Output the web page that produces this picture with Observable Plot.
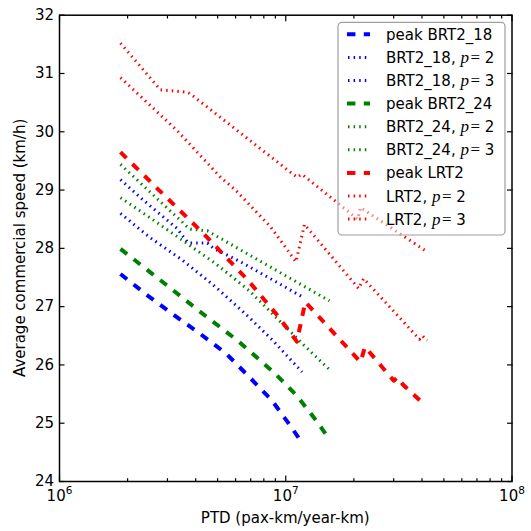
<!DOCTYPE html>
<html>
<head>
<meta charset="utf-8">
<script src="https://cdn.jsdelivr.net/npm/d3@7"></script>
<script src="https://cdn.jsdelivr.net/npm/@observablehq/plot@0.6"></script>
<style>
  html, body { margin: 0; padding: 0; background: #ffffff; }
  #chart svg { display: block; }
</style>
</head>
<body>
<div id="chart"></div>
<script>
// ---------------- data ----------------
const seriesBase   = ["peak BRT2_18", "BRT2_18", "BRT2_18", "peak BRT2_24", "BRT2_24", "BRT2_24", "peak LRT2", "LRT2", "LRT2"];
const seriesP      = [null, 2, 3, null, 2, 3, null, 2, 3];
const seriesColor  = ["#0000ff", "#0000ff", "#0000ff", "#008000", "#008000", "#008000", "#ff0000", "#ff0000", "#ff0000"];
const seriesStyle  = ["dashed", "dotted", "dotted", "dashed", "dotted", "dotted", "dashed", "dotted", "dotted"];

const ptd_peakBRT2_18   = [1.86e6, 2.47e6, 3.22e6, 4.20e6, 5.47e6, 6.91e6, 8.65e6, 1.06e7, 1.18e7];
const speed_peakBRT2_18 = [27.56, 27.18, 26.85, 26.53, 26.19, 25.79, 25.40, 24.93, 24.66];

const ptd_BRT2_18_p2    = [1.86e6, 2.36e6, 3.31e6, 3.67e6, 3.79e6, 4.51e6, 4.79e6, 6.31e6, 8.56e6, 1.18e7];
const speed_BRT2_18_p2  = [29.18, 28.82, 28.34, 28.11, 28.09, 28.09, 28.00, 27.77, 27.48, 27.17];

const ptd_BRT2_18_p3    = [1.86e6, 2.48e6, 3.49e6, 4.89e6, 6.87e6, 8.71e6, 1.18e7];
const speed_BRT2_18_p3  = [28.60, 28.20, 27.80, 27.34, 26.82, 26.43, 25.88];

const ptd_peakBRT2_24   = [1.86e6, 2.82e6, 4.16e6, 6.16e6, 8.92e6, 1.12e7, 1.38e7, 1.56e7];
const speed_peakBRT2_24 = [27.99, 27.44, 26.92, 26.41, 25.86, 25.47, 25.02, 24.72];

const ptd_BRT2_24_p2    = [1.86e6, 3.67e6, 3.79e6, 4.51e6, 4.79e6, 1.56e7];
const speed_BRT2_24_p2  = [29.44, 28.37, 28.33, 28.30, 28.24, 27.10];

const ptd_BRT2_24_p3    = [1.86e6, 2.48e6, 3.49e6, 4.89e6, 6.87e6, 9.65e6, 1.18e7, 1.56e7];
const speed_BRT2_24_p3  = [28.87, 28.54, 28.14, 27.74, 27.28, 26.71, 26.37, 25.92];

const ptd_peakLRT2      = [1.86e6, 2.75e6, 4.34e6, 6.82e6, 9.32e6, 1.12e7, 1.22e7, 2.14e7, 2.24e7, 3.00e7, 3.12e7, 3.30e7, 4.15e7];
const speed_peakLRT2    = [29.65, 29.00, 28.25, 27.45, 26.82, 26.40, 27.08, 26.05, 26.31, 25.73, 25.79, 25.66, 25.30];

const ptd_LRT2_p2       = [1.86e6, 2.79e6, 3.67e6, 3.79e6, 1.12e7, 1.18e7, 2.08e7, 2.14e7, 4.22e7];
const speed_LRT2_p2     = [31.52, 30.72, 30.68, 30.65, 29.22, 29.27, 28.50, 28.70, 27.94];

const ptd_LRT2_p3       = [1.86e6, 3.31e6, 5.15e6, 6.0e6, 8.56e6, 1.11e7, 1.21e7, 2.10e7, 2.21e7, 3.90e7, 4.02e7, 4.22e7];
const speed_LRT2_p3     = [30.93, 30.02, 29.22, 29.00, 28.37, 27.77, 28.41, 27.31, 27.48, 26.44, 26.50, 26.42];

const xMajorTicks = [1e6, 1e7, 1e8];
const xMinorTicks = [2e6, 3e6, 4e6, 5e6, 6e6, 7e6, 8e6, 9e6, 2e7, 3e7, 4e7, 5e7, 6e7, 7e7, 8e7, 9e7];
const yTicks = [24, 25, 26, 27, 28, 29, 30, 31, 32];
const xTitle = "PTD (pax-km/year-km)";
const yTitle = "Average commercial speed (km/h)";

// ---------------- build ----------------
const ptdList = [ptd_peakBRT2_18, ptd_BRT2_18_p2, ptd_BRT2_18_p3, ptd_peakBRT2_24, ptd_BRT2_24_p2, ptd_BRT2_24_p3, ptd_peakLRT2, ptd_LRT2_p2, ptd_LRT2_p3];
const speedList = [speed_peakBRT2_18, speed_BRT2_18_p2, speed_BRT2_18_p3, speed_peakBRT2_24, speed_BRT2_24_p2, speed_BRT2_24_p3, speed_peakLRT2, speed_LRT2_p2, speed_LRT2_p3];

const dashFor = {dashed: "8.4,8.4", dotted: "1.5,4.1"};
const widthFor = {dashed: 4, dotted: 3};

const series = seriesBase.map((base, i) => ({
  base, p: seriesP[i], color: seriesColor[i], style: seriesStyle[i],
  rows: ptdList[i].map((x, j) => ({ptd: x, speed: speedList[i][j]}))
}));

const lineMarks = series.map(s => Plot.line(s.rows, {
  x: "ptd", y: "speed",
  stroke: s.color,
  strokeWidth: widthFor[s.style],
  strokeDasharray: dashFor[s.style],
  strokeLinecap: "butt",
  strokeLinejoin: "round"
}));

const W = 531, H = 531;
const mL = 59, mR = 19.5, mT = 14.7, mB = 50;

const plot = Plot.plot({
  width: W, height: H,
  marginLeft: mL, marginRight: mR, marginTop: mT, marginBottom: mB,
  style: {fontFamily: "'DejaVu Sans', sans-serif", fontSize: "15px", background: "#ffffff", color: "#000000"},
  x: {type: "log", domain: [1e6, 1e8], label: null},
  y: {domain: [24, 32], label: null},
  marks: [
    ...lineMarks,
    Plot.frame({stroke: "#000000", strokeWidth: 1.5}),
    Plot.axisX({anchor: "bottom", ticks: xMajorTicks, tickSize: -5.5, strokeWidth: 1.2, tickFormat: () => "", label: null}),
    Plot.axisX({anchor: "bottom", ticks: xMinorTicks, tickSize: -2.8, strokeWidth: 1.2, tickFormat: () => "", label: null}),
    Plot.axisX({anchor: "top", ticks: xMajorTicks, tickSize: -5.5, strokeWidth: 1.2, tickFormat: () => "", label: null}),
    Plot.axisX({anchor: "top", ticks: xMinorTicks, tickSize: -2.8, strokeWidth: 1.2, tickFormat: () => "", label: null}),
    Plot.axisX({anchor: "bottom", ticks: xMajorTicks, tickSize: 0, tickPadding: 9, fontSize: 15,
      tickFormat: d => `10^${Math.round(Math.log10(d))}`, label: null}),
    Plot.axisY({anchor: "left", ticks: yTicks, tickSize: -5.5, strokeWidth: 1.2, tickFormat: () => "", label: null}),
    Plot.axisY({anchor: "right", ticks: yTicks, tickSize: -5.5, strokeWidth: 1.2, tickFormat: () => "", label: null}),
    Plot.axisY({anchor: "left", ticks: yTicks, tickSize: 0, tickPadding: 5.5, fontSize: 15,
      tickFormat: d => String(d), label: null})
  ]
});

document.getElementById("chart").appendChild(plot);

const svg = d3.select(plot);

// superscript exponents on the log tick labels
svg.selectAll('g[aria-label="x-axis tick label"] text').each(function () {
  const m = /^10\^(\d+)$/.exec(this.textContent);
  if (m) {
    this.textContent = "10";
    d3.select(this).append("tspan").attr("dy", -7.5).attr("font-size", 10.5).text(m[1]);
  }
});

const xr = plot.scale("x").range;
const yr = plot.scale("y").range;
const cx = (xr[0] + xr[1]) / 2;
const cy = (yr[0] + yr[1]) / 2;

svg.append("text")
  .attr("x", cx).attr("y", 523)
  .attr("text-anchor", "middle")
  .attr("font-size", 15)
  .attr("fill", "#000")
  .text(xTitle);

svg.append("text")
  .attr("transform", `translate(24.5,${cy}) rotate(-90)`)
  .attr("text-anchor", "middle")
  .attr("font-size", 15)
  .attr("fill", "#000")
  .text(yTitle);

// legend
const lg = svg.append("g").attr("aria-label", "legend");
lg.append("rect")
  .attr("x", 338).attr("y", 22.3).attr("width", 167).attr("height", 212.7)
  .attr("rx", 4).attr("ry", 4)
  .attr("fill", "#ffffff").attr("fill-opacity", 0.5)
  .attr("stroke", "#a0a0a0").attr("stroke-width", 1.2);

series.forEach((s, i) => {
  const rowY = 34.3 + i * 23.1;
  const dotted = s.style === "dotted";
  lg.append("line")
    .attr("x1", dotted ? 348 : 347).attr("x2", dotted ? 367 : 370)
    .attr("y1", rowY).attr("y2", rowY)
    .attr("stroke", s.color)
    .attr("stroke-width", widthFor[s.style])
    .attr("stroke-dasharray", dashFor[s.style])
    .attr("stroke-linecap", "butt");
  const t = lg.append("text")
    .attr("x", 386).attr("y", rowY + 5.5)
    .attr("text-anchor", "start")
    .attr("font-size", 15).attr("fill", "#000");
  if (s.p == null) {
    t.text(s.base);
  } else {
    t.append("tspan").text(s.base + ", ");
    t.append("tspan").attr("font-family", "'Liberation Serif', serif").attr("font-style", "italic").attr("font-size", 17).text("p");
    t.append("tspan").attr("font-family", "'Liberation Serif', serif").attr("font-size", 17).attr("dx", 1.5).text("=");
    t.append("tspan").text("\u00a0" + s.p);
  }
});
</script>
</body>
</html>
